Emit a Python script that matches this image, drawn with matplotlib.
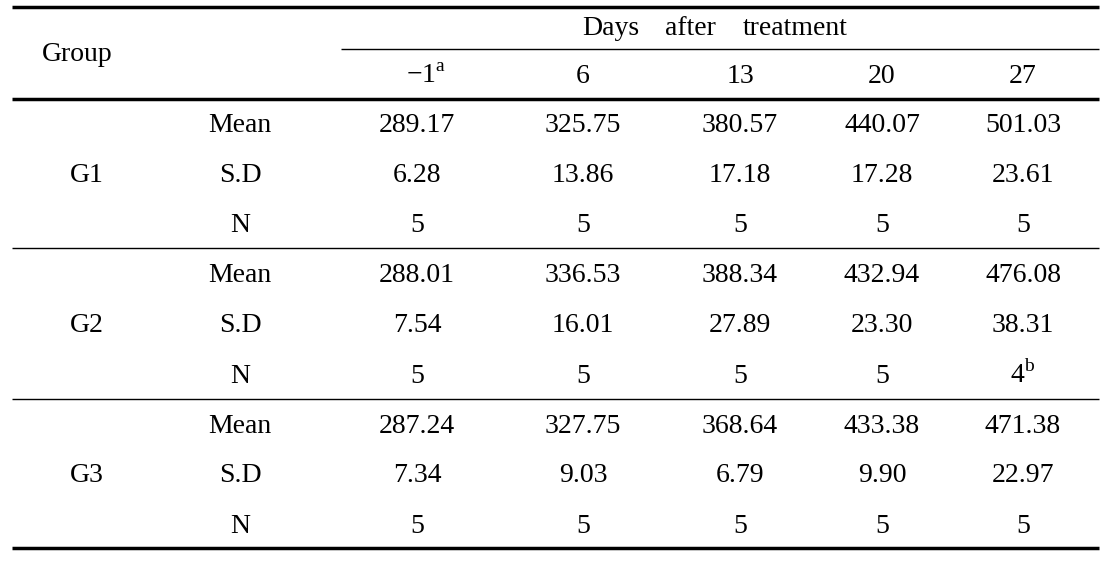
import matplotlib.pyplot as plt

groups = ["G1", "G2", "G3"]
stats = ["Mean", "S.D", "N"]
days = ["\u22121$^{\\mathrm{a}}$", "6", "13", "20", "27"]
header_words = ["Days", "after", "treatment"]

mean = [
    ["289.17", "325.75", "380.57", "440.07", "501.03"],
    ["288.01", "336.53", "388.34", "432.94", "476.08"],
    ["287.24", "327.75", "368.64", "433.38", "471.38"],
]
sd = [
    ["6.28", "13.86", "17.18", "17.28", "23.61"],
    ["7.54", "16.01", "27.89", "23.30", "38.31"],
    ["7.34", "9.03", "6.79", "9.90", "22.97"],
]
n = [
    ["5", "5", "5", "5", "5"],
    ["5", "5", "5", "5", "4$^{\\mathrm{b}}$"],
    ["5", "5", "5", "5", "5"],
]

plt.rcParams["font.family"] = ["Liberation Serif", "DejaVu Serif"]
plt.rcParams["mathtext.fontset"] = "custom"
plt.rcParams["mathtext.rm"] = "Liberation Serif"

fig = plt.figure(figsize=(11.08, 5.63), dpi=100)
ax = fig.add_axes([0, 0, 1, 1])
ax.set_xlim(0, 1108)
ax.set_ylim(563, 0)
ax.axis("off")

fs = 20
col_x = [417, 583, 740, 882, 1023]
head_x = [426, 583, 740, 882, 1023]
word_x = [611, 690, 795]
stat_x = 240
group_x = 87
x0, x1 = 12, 1099

# header
ax.hlines(7, x0, x1, color="black", lw=2.5)
for x, w in zip(word_x, header_words):
    ax.text(x, 35, w, ha="center", va="baseline", fontsize=fs)
ax.hlines(49, 341, x1, color="black", lw=1.0)
ax.text(77, 61, "Group", ha="center", va="baseline", fontsize=fs)
for x, d in zip(head_x, days):
    ax.text(x, 83, d, ha="center", va="baseline", fontsize=fs)
ax.hlines(99, x0, x1, color="black", lw=2.5)

row_base = [[132, 182, 232], [282, 332, 383], [433, 482, 533]]
for g in range(3):
    ax.text(group_x, row_base[g][1], groups[g], ha="center", va="baseline", fontsize=fs)
    for r, vals in enumerate([mean[g], sd[g], n[g]]):
        y = row_base[g][r]
        ax.text(stat_x, y, stats[r], ha="center", va="baseline", fontsize=fs)
        for x, v in zip(col_x, vals):
            ax.text(x, y, v, ha="center", va="baseline", fontsize=fs)
    if g < 2:
        ax.hlines(row_base[g][2] + 16, x0, x1, color="black", lw=1.0)

ax.hlines(548, x0, x1, color="black", lw=2.5)

fig.savefig("out.png", dpi=100)
